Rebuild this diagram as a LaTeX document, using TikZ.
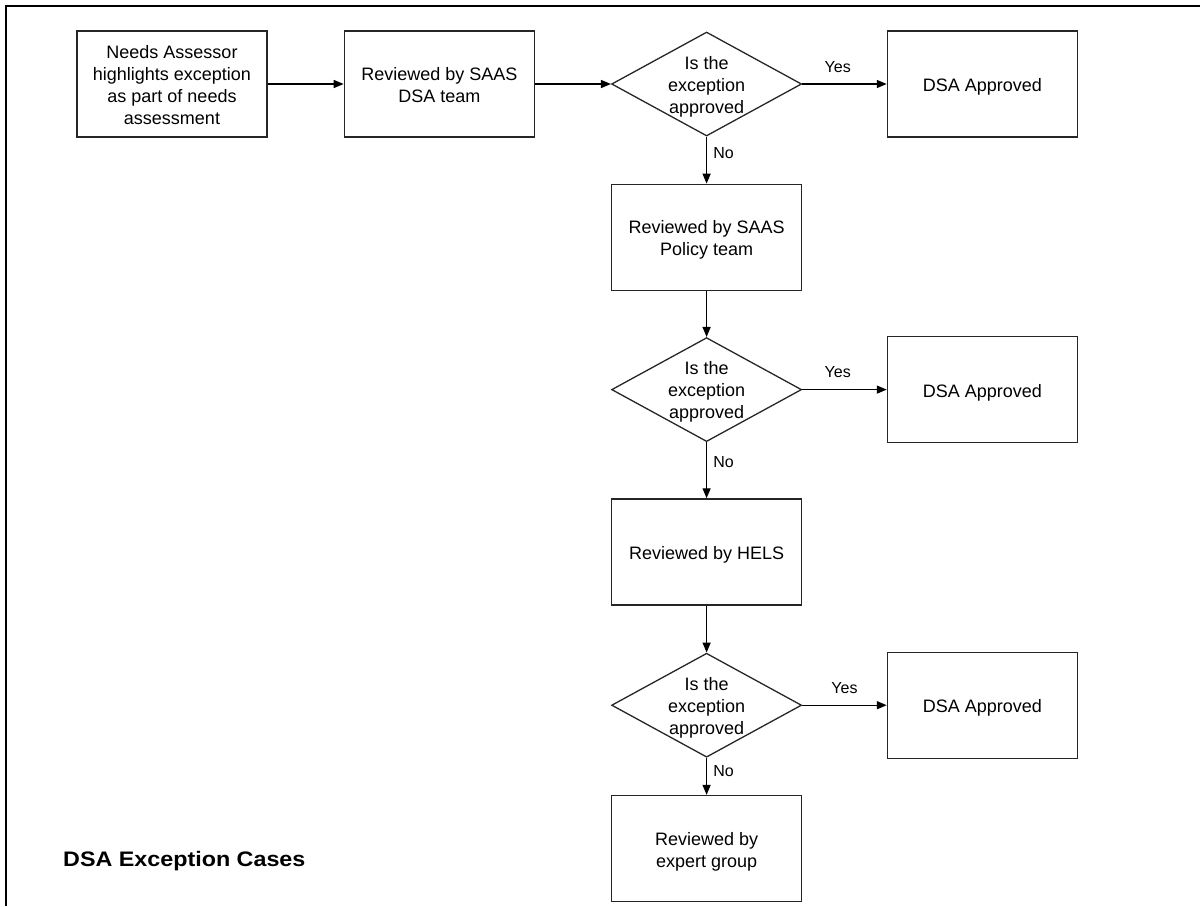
\documentclass[tikz,border=0pt]{standalone}
\usepackage{fontspec}
\setmainfont{Liberation Sans}
\usetikzlibrary{arrows.meta}
\usetikzlibrary{matrix}
\usetikzlibrary{shapes.geometric}
\newcommand\lines[1]{\smash{\raisebox{-7.5pt}{\begin{tabular}{@{}c@{}}#1\end{tabular}}}}
\newcommand\qbox[1]{\smash{\raisebox{-7pt}{\begin{tabular}{@{}c@{}}#1\end{tabular}}}}
\tikzstyle{stepbox}=[draw=black!85,line width=1.3pt,minimum width=190pt,minimum height=106pt,inner sep=2pt,anchor=center,font=\fontsize{18}{22}\selectfont]
\tikzstyle{decide}=[diamond,minimum width=190pt,minimum height=104pt,inner sep=0pt]
\tikzstyle{answer}=[font=\fontsize{16}{19}\selectfont,inner sep=2pt]
\tikzstyle{flowhead}=[>/.tip={Triangle[length=10pt,width=8pt]}]
\tikzstyle{flow}=[line width=1.4pt,flowhead,->]

\begin{document}
\begin{tikzpicture}[x=1pt,y=-1pt]
	\useasboundingbox (0,0) rectangle (1200,906);
	\draw[line width=2.5pt] (6,906) -- (6,6) -- (1200,6);
	\matrix [matrix of nodes,nodes={stepbox},matrix anchor=m-1-1.center] (m) at (172,84) {
	  		\lines{Needs Assessor\\highlights exception\\as part of needs\\assessment} &[76pt] \lines{Reviewed by SAAS\\DSA team} &[76pt] |[decide]| \qbox{Is the\\exception\\approved} &[84.5pt] \lines{DSA Approved}
	\\[46pt] & & \lines{Reviewed by SAAS\\Policy team} &
	\\[45pt] & & |[decide]| \qbox{Is the\\exception\\approved} & \lines{DSA Approved}
	\\[55pt] & & \lines{Reviewed by HELS} &
	\\[46pt] & & |[decide]| \qbox{Is the\\exception\\approved} & \lines{DSA Approved}
	\\[36pt] & & \lines{Reviewed by\\expert group} &
	\\ };
	\draw[flow] (m-1-1) -- (m-1-2);
	\draw[flow] (m-1-2) -- (m-1-3);
	\draw[flow] (m-1-3) --node[answer,above=9pt,pos=.42] {Yes} (m-1-4);
	\draw[flow] (m-1-3) --node[answer,right=4pt,pos=.35] {No} (m-2-3);
	\draw[flow] (m-2-3) -- (m-3-3);
	\draw[flow] (m-3-3) --node[answer,above=9pt,pos=.42] {Yes} (m-3-4);
	\draw[flow] (m-3-3) --node[answer,right=4pt,pos=.35] {No} (m-4-3);
	\draw[flow] (m-4-3) -- (m-5-3);
	\draw[flow] (m-5-3) --node[answer,above=9pt,pos=.5] {Yes} (m-5-4);
	\draw[flow] (m-5-3) --node[answer,right=4pt,pos=.35] {No} (m-6-3);
	\node[anchor=base west,inner sep=0pt,font=\fontsize{21}{25}\selectfont\bfseries] (title) at (63,866) {\scalebox{1.11}[1]{DSA Exception Cases}};
\end{tikzpicture}
\end{document}
